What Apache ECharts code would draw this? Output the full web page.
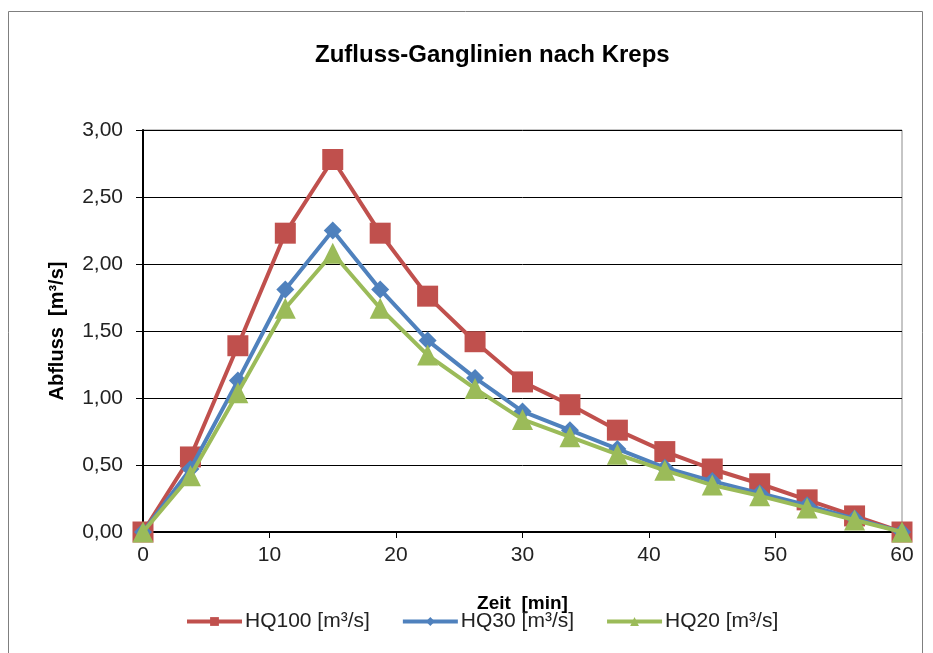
<!DOCTYPE html>
<html>
<head>
<meta charset="utf-8">
<script src="https://cdn.jsdelivr.net/npm/echarts@6/dist/echarts.min.js"></script>
<style>
  html, body { margin: 0; padding: 0; background: #fff; }
  #main { width: 933px; height: 653px; }
</style>
</head>
<body>
<div id="main"></div>
<script>
// Zeit [min]
let zeit = [0, 3.75, 7.5, 11.25, 15, 18.75, 22.5, 26.25, 30, 33.75, 37.5, 41.25, 45, 48.75, 52.5, 56.25, 60];
// Abfluss [m³/s]
let hq100 = [0, 0.56, 1.39, 2.23, 2.78, 2.23, 1.76, 1.42, 1.12, 0.95, 0.76, 0.60, 0.47, 0.36, 0.24, 0.12, 0];
let hq30 = [0, 0.47, 1.13, 1.81, 2.25, 1.81, 1.43, 1.15, 0.90, 0.76, 0.62, 0.48, 0.38, 0.29, 0.20, 0.10, 0];
let hq20 = [0, 0.42, 1.04, 1.67, 2.08, 1.67, 1.32, 1.07, 0.84, 0.71, 0.58, 0.46, 0.35, 0.27, 0.18, 0.09, 0];
let seriesNames = ['HQ100 [m³/s]', 'HQ30 [m³/s]', 'HQ20 [m³/s]'];

function pairs(values) {
    return zeit.map(function (t, i) { return [t, values[i]]; });
}

let myChart = echarts.init(document.getElementById('main'));
let option = {
    backgroundColor: '#ffffff',
    color: ['#C0504D', '#4F81BD', '#9BBB59'],
    textStyle: { fontFamily: 'Liberation Sans, Arial, sans-serif' },
    title: {
        text: 'Zufluss-Ganglinien nach Kreps',
        left: 310,
        top: 38,
        textStyle: { fontSize: 24, fontWeight: 'bold', color: '#000' }
    },
    graphic: [{
        type: 'rect',
        shape: { x: 8.5, y: 11.5, width: 914, height: 660 },
        style: { fill: 'none', stroke: '#7f7f7f', lineWidth: 1 },
        silent: true
    }],
    legend: {
        top: 606,
        left: 180,
        itemGap: 31,
        itemWidth: 55,
        itemHeight: 11,
        lineStyle: { width: 4 },
        textStyle: { fontSize: 21, color: '#222', padding: [0, 0, 0, -2] },
        data: seriesNames
    },
    grid: {
        left: 143,
        right: 31,
        top: 130,
        bottom: 121,
        show: true,
        borderColor: '#8c8c8c',
        borderWidth: 1,
        containLabel: false
    },
    xAxis: {
        type: 'value',
        min: 0,
        max: 60,
        interval: 10,
        name: 'Zeit  [min]',
        nameLocation: 'middle',
        nameGap: 62,
        nameTextStyle: { fontSize: 19, fontWeight: 'bold', color: '#000' },
        axisLine: { lineStyle: { color: '#000', width: 2 } },
        axisTick: { show: true, length: 6, lineStyle: { color: '#000' } },
        axisLabel: { fontSize: 21, color: '#222', margin: 13 },
        splitLine: { show: false }
    },
    yAxis: {
        type: 'value',
        min: 0,
        max: 3,
        interval: 0.5,
        name: 'Abfluss  [m³/s]',
        nameLocation: 'middle',
        nameGap: 76,
        nameRotate: 90,
        nameTextStyle: { fontSize: 20, fontWeight: 'bold', color: '#000' },
        axisLine: { show: true, lineStyle: { color: '#000', width: 2 } },
        axisTick: { show: true, length: 7, lineStyle: { color: '#000' } },
        axisLabel: {
            fontSize: 21,
            color: '#222',
            margin: 20,
            formatter: function (v) { return v.toFixed(2).replace('.', ','); }
        },
        splitLine: { show: true, lineStyle: { color: '#000', width: 1 } }
    },
    series: [{
        name: seriesNames[0],
        type: 'line',
        data: pairs(hq100),
        symbol: 'rect',
        symbolSize: 21,
        lineStyle: { width: 4 },
        z: 2
    }, {
        name: seriesNames[1],
        type: 'line',
        data: pairs(hq30),
        symbol: 'diamond',
        symbolSize: 18,
        lineStyle: { width: 4 },
        z: 3
    }, {
        name: seriesNames[2],
        type: 'line',
        data: pairs(hq20),
        symbol: 'triangle',
        symbolSize: 21,
        lineStyle: { width: 4 },
        z: 4
    }]
};
myChart.setOption(option);
</script>
</body>
</html>
